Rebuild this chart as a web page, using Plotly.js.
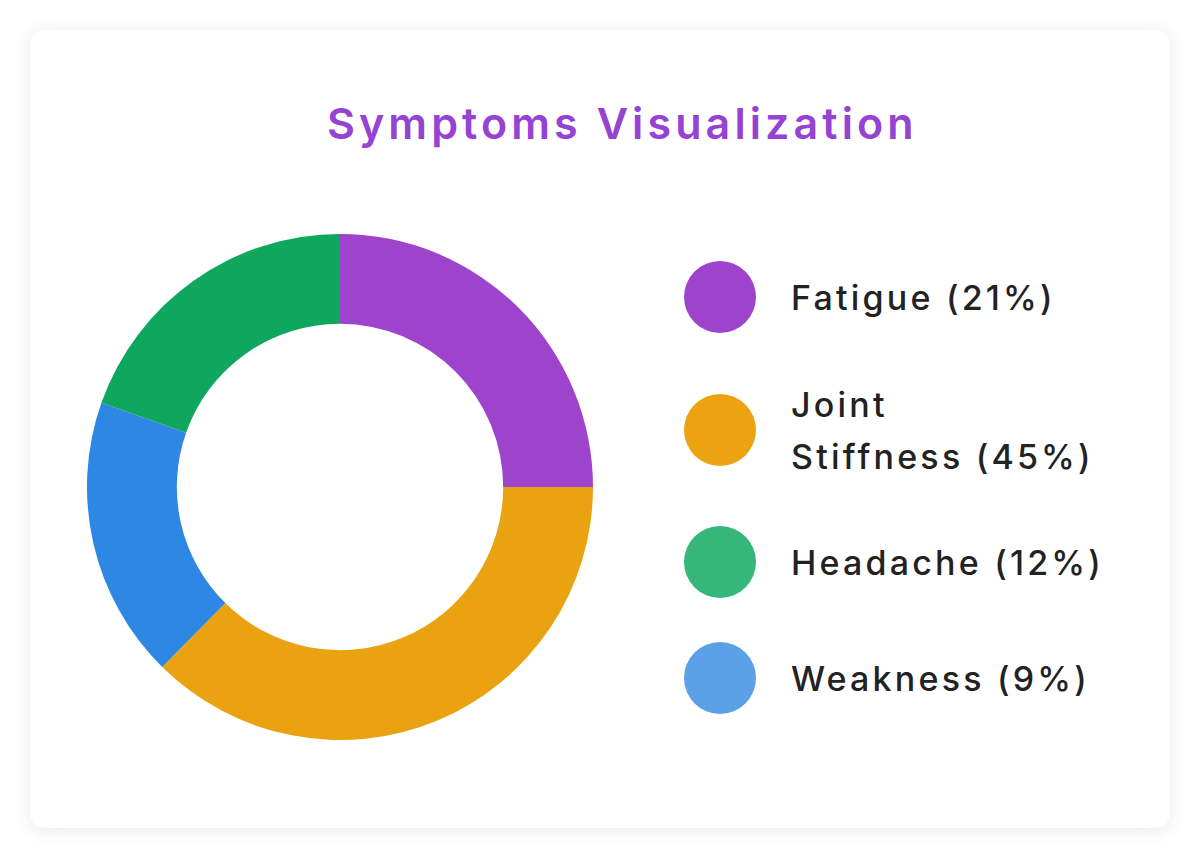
<!DOCTYPE html>
<html>
<head>
<meta charset="utf-8">
<script src="https://cdn.plot.ly/plotly-3.0.1.min.js"></script>
<style>
  html, body { margin: 0; padding: 0; background: #ffffff; }
  #wrap { position: relative; width: 1200px; height: 858px; overflow: hidden; }
  #card { position: absolute; left: 30px; top: 30px; width: 1140px; height: 798px;
          background: #ffffff; border-radius: 14px;
          box-shadow: 0 2px 18px rgba(0,0,0,0.09); }
  #chart { position: absolute; left: 0; top: 0; width: 1200px; height: 858px; }
  #chart .annotation-text { letter-spacing: 3.2px; }
  #chart .annotation[data-index="0"] .annotation-text { letter-spacing: 4.1px; }
</style>
</head>
<body>
<div id="wrap">
  <div id="card"></div>
  <div id="chart"></div>
</div>
<script>
// ---- data ----
const titleText = 'Symptoms Visualization';
const pieLabels = ['Fatigue', 'Joint Stiffness', 'Weakness', 'Headache'];
const pieValues = [25, 37.4, 18.0, 19.6];
const pieColors = ['#9D43CC', '#EAA211', '#2D87E3', '#0FA75E'];

const legendNames = ['Fatigue', 'Joint Stiffness', 'Headache', 'Weakness'];
const legendPercents = [21, 45, 12, 9];
const legendColors = ['#9D43CC', '#EBA312', '#35B779', '#5CA0E8'];

// ---- layout helpers ----
const W = 1200, H = 858;
const px = x => x / W;
const py = y => 1 - y / H;

const cx = 340, cy = 487, R = 253;

const trace = {
  type: 'pie',
  labels: pieLabels,
  values: pieValues,
  marker: { colors: pieColors, line: { width: 0 } },
  hole: 0.645,
  sort: false,
  direction: 'clockwise',
  rotation: 0,
  textinfo: 'none',
  hoverinfo: 'label+percent',
  showlegend: false,
  domain: { x: [px(cx - R), px(cx + R)], y: [py(cy + R), py(cy - R)] }
};

const FONT = 'Inter, "DejaVu Sans", sans-serif';
const annotations = [{
  text: titleText, xref: 'paper', yref: 'paper',
  x: px(622), y: py(123), xanchor: 'center', yanchor: 'middle', align: 'center',
  showarrow: false,
  font: { family: FONT, size: 43, color: '#9443D2', weight: 600 }
}];
const shapes = [];

const circleX = 720, circleR = 36, textX = 789, lineGap = 52;
const rowY = [297, 430, 562, 678];
legendNames.forEach((name, i) => {
  const full = name + ' (' + legendPercents[i] + '%)';
  const first = name.split(' ')[0];
  const lines = full.length > 16 ? [first, full.slice(first.length + 1)] : [full];
  shapes.push({
    type: 'circle', xref: 'paper', yref: 'paper',
    x0: px(circleX - circleR), x1: px(circleX + circleR),
    y0: py(rowY[i] + circleR), y1: py(rowY[i] - circleR),
    fillcolor: legendColors[i], line: { width: 0 }
  });
  lines.forEach((ln, j) => {
    const yy = rowY[i] + (j - (lines.length - 1) / 2) * lineGap;
    annotations.push({
      text: ln, xref: 'paper', yref: 'paper',
      x: px(textX), y: py(yy), xanchor: 'left', yanchor: 'middle', align: 'left',
      showarrow: false,
      font: { family: FONT, size: 34, color: '#222222', weight: 500 }
    });
  });
});

const layout = {
  width: W, height: H,
  margin: { l: 0, r: 0, t: 0, b: 0 },
  paper_bgcolor: 'rgba(0,0,0,0)',
  plot_bgcolor: 'rgba(0,0,0,0)',
  showlegend: false,
  annotations: annotations,
  shapes: shapes
};

Plotly.newPlot('chart', [trace], layout, { displayModeBar: false, staticPlot: true });
</script>
</body>
</html>
